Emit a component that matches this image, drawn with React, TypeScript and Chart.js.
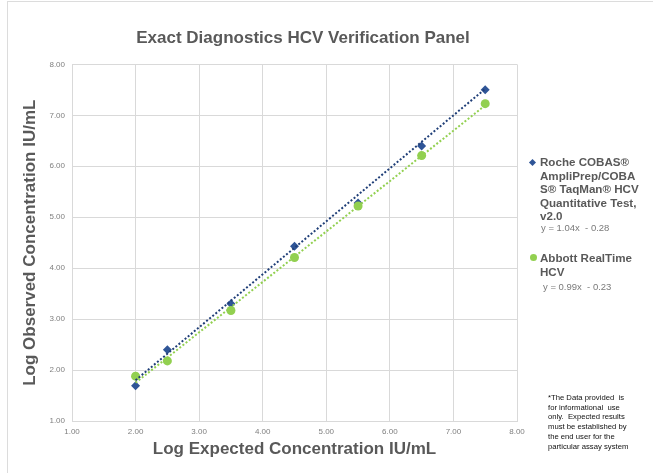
import React, { useEffect, useRef } from "react";
import { Chart, registerables } from "chart.js";

Chart.register(...registerables);

const expected: number[] = [2.0, 2.5, 3.5, 4.5, 5.5, 6.5, 7.5];
const rocheObserved: number[] = [1.69, 2.4, 3.3, 4.43, 5.28, 6.4, 7.5];
const abbottObserved: number[] = [1.88, 2.18, 3.17, 4.21, 5.22, 6.21, 7.23];
const rocheFit = { slope: 1.04, intercept: -0.28 };
const abbottFit = { slope: 0.99, intercept: -0.23 };
const trendRange: number[] = [2.0, 7.5];
const axisMin = 1;
const axisMax = 8;

const titleText = "Exact Diagnostics HCV Verification Panel";
const xTitle = "Log Expected Concentration IU/mL";
const yTitle = "Log Observed Concentration IU/mL";
const rocheLines = ["Roche COBAS®", "AmpliPrep/COBA", "S® TaqMan® HCV", "Quantitative Test,", "v2.0"];
const abbottLines = ["Abbott RealTime", "HCV"];
const rocheEq = "y = 1.04x  - 0.28";
const abbottEq = "y = 0.99x  - 0.23";
const noteLines = [
  "*The Data provided  is",
  "for informational  use",
  "only.  Expected results",
  "must be established by",
  "the end user for the",
  "particular assay system",
];

const BLUE = "#2f5597";
const BLUE_LINE = "#203f78";
const GREEN = "#92d050";
const GRID = "#d9d9d9";
const TEXT = "#595959";
const FONT = "'Liberation Sans', Arial, sans-serif";

export default function App() {
  const canvasRef = useRef<HTMLCanvasElement | null>(null);

  useEffect(() => {
    document.body.style.margin = "0";
    const canvas = canvasRef.current;
    if (!canvas) return;
    const pts = (xs: number[], ys: number[]) => xs.map((x, i) => ({ x, y: ys[i] }));
    const fit = (f: { slope: number; intercept: number }) =>
      trendRange.map((x) => ({ x, y: f.slope * x + f.intercept }));

    const chart = new Chart(canvas, {
      type: "scatter",
      data: {
        datasets: [
          {
            label: "Roche trend",
            data: fit(rocheFit),
            showLine: true,
            borderColor: BLUE_LINE,
            borderWidth: 2,
            borderDash: [2, 2],
            pointRadius: 0,
            fill: false,
          } as any,
          {
            label: "Abbott trend",
            data: fit(abbottFit),
            showLine: true,
            borderColor: GREEN,
            borderWidth: 2,
            borderDash: [2, 2],
            pointRadius: 0,
            fill: false,
          } as any,
          {
            label: "Abbott RealTime HCV",
            data: pts(expected, abbottObserved),
            pointStyle: "circle",
            pointRadius: 4.5,
            backgroundColor: GREEN,
            borderColor: GREEN,
            borderWidth: 0,
          },
          {
            label: "Roche COBAS",
            data: pts(expected, rocheObserved),
            pointStyle: "rectRot",
            pointRadius: 4.5,
            backgroundColor: BLUE,
            borderColor: BLUE,
            borderWidth: 0,
          },
        ],
      },
      options: {
        animation: false,
        responsive: false,
        maintainAspectRatio: false,
        layout: { padding: { left: 0, right: 47, top: 0, bottom: 0 } },
        plugins: {
          legend: { display: false },
          tooltip: { enabled: false },
          title: {
            display: true,
            text: titleText,
            color: TEXT,
            font: { family: FONT, size: 17, weight: "bold" },
            padding: { top: 28, bottom: 16 },
          },
        },
        scales: {
          x: {
            type: "linear",
            min: axisMin,
            max: axisMax,
            afterFit: (s: any) => {
              s.height = 52;
            },
            ticks: {
              stepSize: 1,
              color: "#7f7f7f",
              font: { family: FONT, size: 8 },
              padding: 6,
              callback: (v: any) => Number(v).toFixed(2),
            },
            grid: { color: GRID, drawTicks: false },
            border: { color: GRID },
            title: {
              display: true,
              text: xTitle,
              color: TEXT,
              font: { family: FONT, size: 17, weight: "bold" },
              padding: { top: 0, bottom: 13 },
            },
          },
          y: {
            type: "linear",
            min: axisMin,
            max: axisMax,
            afterFit: (s: any) => {
              s.width = 72;
            },
            ticks: {
              stepSize: 1,
              color: "#7f7f7f",
              font: { family: FONT, size: 8 },
              padding: 7,
              callback: (v: any) => Number(v).toFixed(2),
            },
            grid: { color: GRID, drawTicks: false },
            border: { color: GRID },
            title: {
              display: true,
              text: yTitle,
              color: TEXT,
              font: { family: FONT, size: 17, weight: "bold" },
              padding: { top: 20, bottom: 0 },
            },
          },
          y2: {
            type: "linear",
            position: "right",
            display: true,
            min: axisMin,
            max: axisMax,
            afterFit: (s: any) => {
              s.width = 89;
            },
            ticks: { display: false },
            grid: { display: false },
            border: { display: false },
          },
        },
      } as any,
    });
    return () => chart.destroy();
  }, []);

  const legendText: React.CSSProperties = {
    fontFamily: FONT,
    fontWeight: "bold",
    fontSize: 11.6,
    lineHeight: "13.5px",
    color: TEXT,
  };
  const eqText: React.CSSProperties = {
    fontFamily: FONT,
    fontSize: 9.5,
    color: "#7a7a7a",
    whiteSpace: "pre",
  };

  return (
    <div style={{ position: "relative", width: 653, height: 473, overflow: "hidden", background: "#fff" }}>
      <canvas ref={canvasRef} width={653} height={473} style={{ position: "absolute", left: 0, top: 0 }} />
      <div
        style={{
          position: "absolute",
          left: 7,
          top: 1,
          width: 700,
          height: 500,
          borderLeft: "1px solid #dcdcdc",
          borderTop: "1px solid #dcdcdc",
          pointerEvents: "none",
        }}
      />
      <div style={{ position: "absolute", left: 529, top: 155 }}>
        <span
          style={{
            position: "absolute",
            left: 1,
            top: 5,
            width: 5,
            height: 5,
            background: BLUE,
            transform: "rotate(45deg)",
          }}
        />
        <div style={{ ...legendText, position: "absolute", left: 11, top: 0, whiteSpace: "nowrap" }}>
          {rocheLines.map((l, i) => (
            <div key={i}>{l}</div>
          ))}
        </div>
        <div style={{ ...eqText, position: "absolute", left: 12, top: 67 }}>{rocheEq}</div>
      </div>
      <div style={{ position: "absolute", left: 529, top: 251 }}>
        <span
          style={{
            position: "absolute",
            left: 1,
            top: 3,
            width: 7,
            height: 7,
            borderRadius: "50%",
            background: GREEN,
          }}
        />
        <div style={{ ...legendText, position: "absolute", left: 11, top: 0, whiteSpace: "nowrap" }}>
          {abbottLines.map((l, i) => (
            <div key={i}>{l}</div>
          ))}
        </div>
        <div style={{ ...eqText, position: "absolute", left: 14, top: 30 }}>{abbottEq}</div>
      </div>
      <div
        style={{
          position: "absolute",
          left: 548,
          top: 393,
          fontFamily: FONT,
          fontSize: 7.7,
          lineHeight: "9.7px",
          color: "#111",
          whiteSpace: "pre",
        }}
      >
        {noteLines.map((l, i) => (
          <div key={i}>{l}</div>
        ))}
      </div>
    </div>
  );
}
